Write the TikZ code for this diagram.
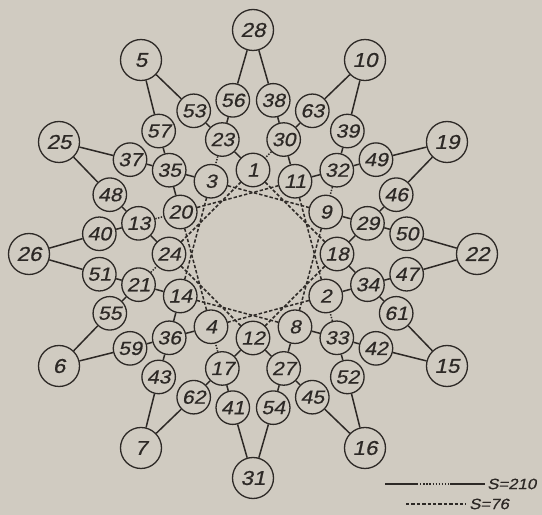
\documentclass[tikz,border=0pt]{standalone}
\usepackage{fontspec}
\newfontfamily\numfont[FakeStretch=1.12,FakeSlant=0.22,FakeBold=0.6]{Liberation Sans}
\definecolor{bg}{RGB}{208,203,193}
\definecolor{ink}{RGB}{45,41,38}
\begin{document}
\begin{tikzpicture}[x=1pt,y=1pt,
  nd/.style={circle, draw=ink, line width=1.3pt, fill=bg, inner sep=0pt, minimum size=33.5pt, text=ink, font=\numfont\fontsize{19}{19}\selectfont},
  big/.style={nd, minimum size=41pt, font=\numfont\fontsize{20}{20}\selectfont},
  link/.style={draw=ink, line width=1.5pt},
  dlink/.style={draw=ink, line width=1.5pt, dash pattern=on 1.4pt off 1.4pt},
  chord/.style={draw=ink, line width=1.5pt, dash pattern=on 3.4pt off 2pt},
  legtext/.style={text=ink, font=\numfont\fontsize{15}{15}\selectfont, inner sep=0pt, anchor=west}
]
\fill[bg] (0,0) rectangle (542,515);
\useasboundingbox (0,0) rectangle (542,515);
\begin{scope}[shift={(253,261)}]
  % inner ring
  \foreach \a/\n in {0/18,30/9,60/11,90/1,120/3,150/20,180/24,210/14,240/4,270/12,300/8,330/2}
    \node[nd] (n\n) at (\a:84) {\n};
  % second ring
  \foreach \a/\n in {15/29,45/32,75/30,105/23,135/35,165/13,195/21,225/36,255/17,285/27,315/33,345/34}
    \node[nd] (n\n) at (\a:118.5) {\n};
  % third ring
  \foreach \a/\n in {7.5/50,22.5/46,37.5/49,52.5/39,67.5/63,82.5/38,97.5/56,112.5/53,127.5/57,142.5/37,157.5/48,172.5/40,187.5/51,202.5/55,217.5/59,232.5/43,247.5/62,262.5/41,277.5/54,292.5/45,307.5/52,322.5/42,337.5/61,352.5/47}
    \node[nd] (n\n) at (\a:155) {\n};
  % outer points
  \foreach \a/\n in {0/22,30/19,60/10,90/28,120/5,150/25,180/26,210/6,240/7,270/31,300/16,330/15}
    \node[big] (n\n) at (\a:224) {\n};
\end{scope}
% outer to third ring
\foreach \p/\q in {22/50,22/47,19/46,19/49,10/39,10/63,28/38,28/56,5/53,5/57,25/37,25/48,26/40,26/51,6/55,6/59,7/43,7/62,31/41,31/54,16/45,16/52,15/42,15/61}
  \draw[link] (n\p) -- (n\q);
% third to second ring
\foreach \p/\q in {50/29,46/29,49/32,39/32,63/30,38/30,56/23,53/23,57/35,37/35,48/13,40/13,51/21,55/21,59/36,43/36,62/17,41/17,54/27,45/27,52/33,42/33,61/34,47/34}
  \draw[link] (n\p) -- (n\q);
% second to inner ring
\foreach \p/\q in {29/9,32/11,30/11,23/1,35/20,21/14,36/14,36/4,27/8,33/8,34/2,34/18,29/18,35/3,13/24,17/12,27/12}
  \draw[link] (n\p) -- (n\q);
\foreach \p/\q in {32/9,30/1,23/3,13/20,21/24,17/4,33/2}
  \draw[dlink] (n\p) -- (n\q);
% inner chords
\foreach \p/\q in {18/12,9/8,11/2,1/18,3/9,20/11,24/1,14/3,4/20,12/24,8/14,2/4}
  \draw[chord] (n\p) -- (n\q);
% legend
\coordinate (la) at (385,31);
\coordinate (lb) at (417,31);
\coordinate (lc) at (450,31);
\coordinate (ld) at (485,31);
\draw[link] (la) -- (lb);
\draw[draw=ink, line width=1.3pt, dash pattern=on 1.3pt off 1.8pt] (lb) -- (lc);
\draw[link] (lc) -- (ld);
\node[legtext] (l1) at (487,31) {S=210};
\coordinate (le) at (406,11);
\coordinate (lf) at (466,11);
\draw[chord] (le) -- (lf);
\node[legtext] (l2) at (469,11) {S=76};
\end{tikzpicture}
\end{document}
